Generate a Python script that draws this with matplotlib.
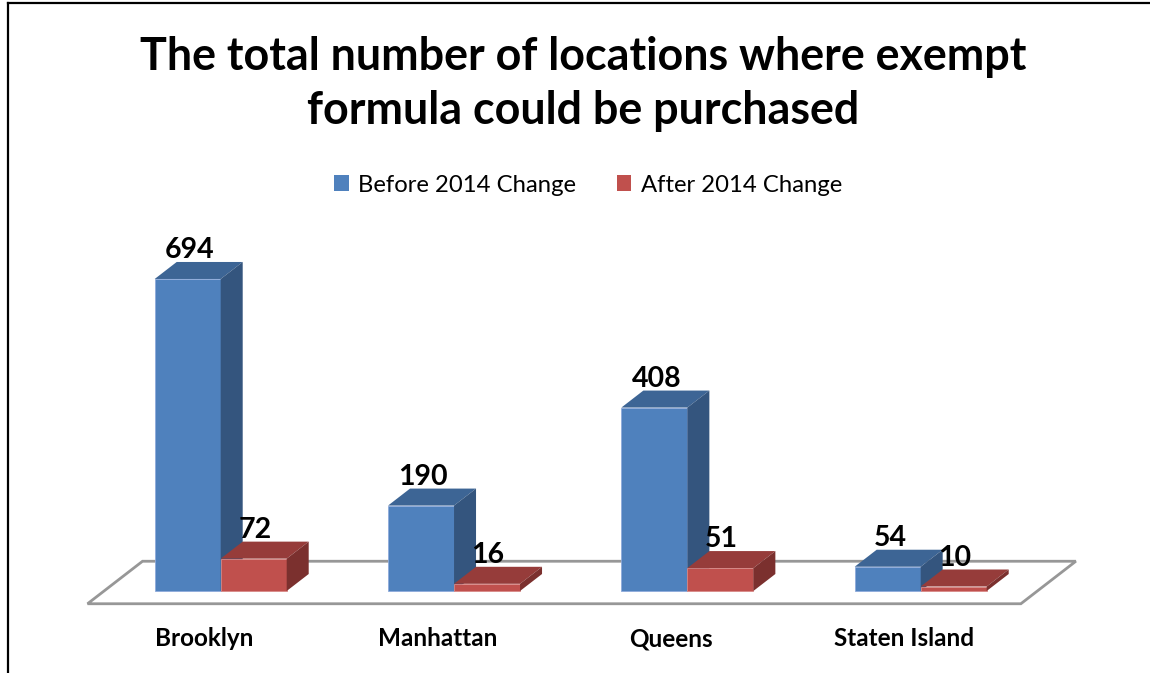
import numpy as np
import matplotlib.pyplot as plt
from matplotlib.patches import Polygon, Patch
from matplotlib.lines import Line2D

# data
boroughs = ['Brooklyn', 'Manhattan', 'Queens', 'Staten Island']
before_2014 = [694, 190, 408, 54]
after_2014 = [72, 16, 51, 10]
series_names = ['Before 2014 Change', 'After 2014 Change']
title_lines = ['The total number of locations where exempt', 'formula could be purchased']

plt.rcParams['font.family'] = ['Lato', 'DejaVu Sans']

W, H = 1150, 673
fig = plt.figure(figsize=(W / 100, H / 100), dpi=100)

# pixel layout of the plot area (one x unit = one borough slot)
slot_px = 233.33
unit_px = 0.4496          # pixels per location
x0_px, y0_px = 220.7, 591  # pixel of x=0, y=0 (from top)
ax_l, ax_r, ax_t, ax_b = 40, 1110, 215, 625
ax = fig.add_axes([ax_l / W, 1 - ax_b / H, (ax_r - ax_l) / W, (ax_b - ax_t) / H])
ax.set_xlim((ax_l - x0_px) / slot_px, (ax_r - x0_px) / slot_px)
ax.set_ylim((y0_px - ax_b) / unit_px, (y0_px - ax_t) / unit_px)
ax.axis('off')

# depth offset of the pseudo-3D bars
DX = 22 / slot_px
DY = 17 / unit_px
bar_w = 66 / slot_px

# front, top, side, edge
colors = {
    'blue': ('#4F81BD', '#3D6595', '#34557E', '#8EAADB'),
    'red': ('#C0504D', '#963C3A', '#7B302E', '#D98A88'),
}


def bar3d(x, h, cols):
    front, top, side, edge = cols
    ax.add_patch(Polygon([(x, 0), (x + bar_w, 0), (x + bar_w, h), (x, h)],
                         closed=True, fc=front, ec=edge, lw=0.6, zorder=3))
    ax.add_patch(Polygon([(x, h), (x + bar_w, h), (x + bar_w + DX, h + DY), (x + DX, h + DY)],
                         closed=True, fc=top, ec='none', zorder=3))
    ax.add_patch(Polygon([(x + bar_w, 0), (x + bar_w + DX, DY), (x + bar_w + DX, h + DY), (x + bar_w, h)],
                         closed=True, fc=side, ec='none', zorder=3))


# floor
n = len(boroughs)
d_front, d_back = -0.75, 1.75
floor = [(-0.5 + d_front * DX, d_front * DY), (n - 0.5 + d_front * DX, d_front * DY),
         (n - 0.5 + d_back * DX, d_back * DY), (-0.5 + d_back * DX, d_back * DY)]
ax.add_patch(Polygon(floor, closed=True, fc='white', ec='#979797', lw=2, zorder=1))

x = np.arange(n)
for i in range(n):
    bar3d(x[i] - bar_w, before_2014[i], colors['blue'])
    bar3d(x[i], after_2014[i], colors['red'])

# value labels
pad = 4 / unit_px
for i in range(n):
    ax.text(x[i] - bar_w / 2 + DX * 0.1, before_2014[i] + DY + pad, str(before_2014[i]),
            ha='center', va='baseline', fontsize=20.5, fontweight='bold', zorder=5)
    ax.text(x[i] + bar_w / 2 + DX * 0.05, after_2014[i] + DY + pad, str(after_2014[i]),
            ha='center', va='baseline', fontsize=20.5, fontweight='bold', zorder=5)

# category labels
for i in range(n):
    ax.text(x[i] - 0.07, (y0_px - 646) / unit_px, boroughs[i], ha='center', va='baseline',
            fontsize=17.5, fontweight='bold', clip_on=False)

fig.text(0.507, 1 - 70 / H, title_lines[0], ha='center', va='baseline',
         fontsize=32.3, fontweight='bold')
fig.text(0.507, 1 - 124 / H, title_lines[1], ha='center', va='baseline',
         fontsize=32.3, fontweight='bold')

handles = [Patch(fc=colors['blue'][0]), Patch(fc=colors['red'][0])]
fig.legend(handles, series_names, loc='center', bbox_to_anchor=(588 / W, 1 - 185 / H),
           ncol=2, frameon=False, fontsize=17.2, handlelength=0.62, handleheight=0.62,
           handletextpad=0.4, columnspacing=1.7, borderpad=0)

# outer frame
fig.add_artist(Line2D([8 / W, 8 / W], [0, 1 - 3 / H], transform=fig.transFigure, color='black', lw=1.6))
fig.add_artist(Line2D([8 / W, 1], [1 - 3 / H, 1 - 3 / H], transform=fig.transFigure, color='black', lw=1.6))

fig.savefig('out.png', dpi=100, facecolor='white')
